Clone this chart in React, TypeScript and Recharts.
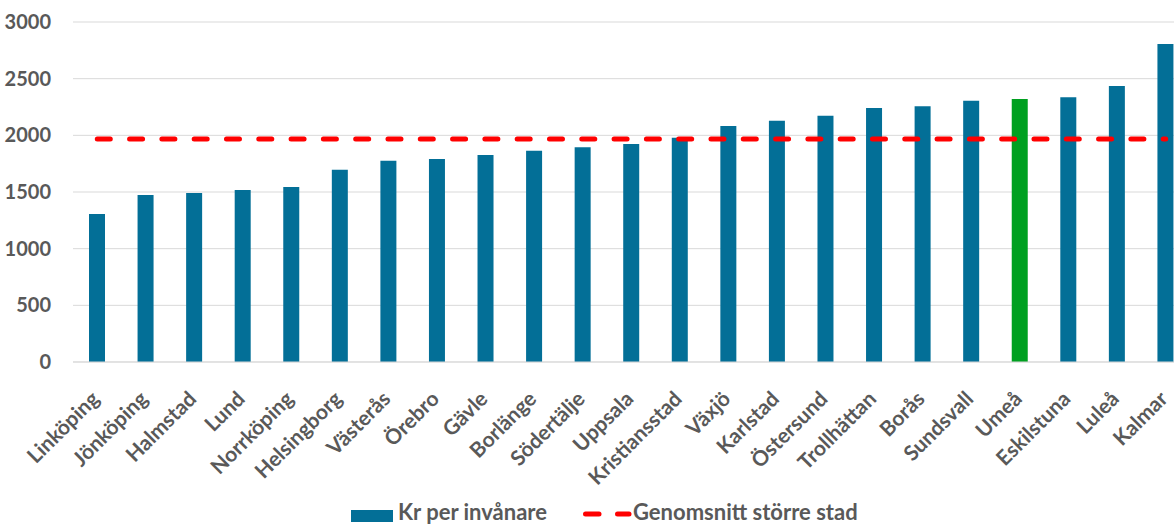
import { ComposedChart, Bar, Line, XAxis, YAxis, CartesianGrid, Cell } from "recharts";

const cities = [
  "Linköping", "Jönköping", "Halmstad", "Lund", "Norrköping", "Helsingborg",
  "Västerås", "Örebro", "Gävle", "Borlänge", "Södertälje", "Uppsala",
  "Kristiansstad", "Växjö", "Karlstad", "Östersund", "Trollhättan", "Borås",
  "Sundsvall", "Umeå", "Eskilstuna", "Luleå", "Kalmar",
];
const krPerInvanare = [
  1306, 1473, 1491, 1518, 1544, 1697, 1776, 1791, 1826, 1864, 1894, 1923,
  1979, 2082, 2129, 2173, 2241, 2256, 2306, 2321, 2335, 2435, 2806,
];
const genomsnitt = 1968;
const highlighted = "Umeå";
const yTicks = [0, 500, 1000, 1500, 2000, 2500, 3000];
const seriesNames = ["Kr per invånare", "Genomsnitt större stad"];

const BLUE = "#036f97";
const GREEN = "#00a020";
const RED = "#ff0000";
const GREY = "#595959";
const FONT = "Lato, 'Open Sans', sans-serif";

const data = cities.map((city, i) => ({ city, value: krPerInvanare[i], avg: genomsnitt }));

function CityTick(props: any) {
  const { x, y, payload } = props;
  return (
    <g transform={`translate(${x - 2},${y + 25})`}>
      <text
        x={0}
        y={0}
        dy="0.35em"
        textAnchor="end"
        transform="rotate(-45)"
        fill={GREY}
        fontFamily={FONT}
        fontWeight={700}
        fontSize={21}
      >
        {payload.value}
      </text>
    </g>
  );
}

const legendText = {
  position: "absolute" as const,
  top: 499,
  lineHeight: "25px",
  fontFamily: FONT,
  fontWeight: 700,
  fontSize: 22,
  color: GREY,
  whiteSpace: "nowrap" as const,
};

// legend drawn as plain html under the chart
function ChartLegend() {
  return (
    <>
      <span style={{ position: "absolute", left: 351, top: 510, width: 42, height: 12, background: BLUE }} />
      <span style={{ ...legendText, left: 398 }}>{seriesNames[0]}</span>
      <svg width={56} height={10} style={{ position: "absolute", left: 580, top: 509 }}>
        <line x1={5.5} y1={5} x2={19} y2={5} stroke={RED} strokeWidth={5} strokeLinecap="round" />
        <line x1={37.5} y1={5} x2={49} y2={5} stroke={RED} strokeWidth={5} strokeLinecap="round" />
      </svg>
      <span style={{ ...legendText, left: 633 }}>{seriesNames[1]}</span>
    </>
  );
}

export default function App() {
  return (
    <div
      style={{
        position: "fixed",
        left: 0,
        top: 0,
        width: 1174,
        height: 526,
        overflow: "hidden",
        background: "#fff",
      }}
    >
      <ComposedChart
        width={1200}
        height={526}
        data={data}
        margin={{ top: 22, right: 10, left: 0, bottom: 0 }}
      >
        <CartesianGrid vertical={false} stroke="#d9d9d9" strokeWidth={1} />
        <XAxis
          dataKey="city"
          interval={0}
          tickLine={false}
          axisLine={{ stroke: "#d9d9d9" }}
          height={164}
          tick={<CityTick />}
        />
        <YAxis
          domain={[0, 3000]}
          ticks={yTicks}
          width={73}
          axisLine={false}
          tickLine={false}
          tickMargin={16}
          tick={{ fill: GREY, fontFamily: FONT, fontWeight: 700, fontSize: 20 }}
        />
        <Bar dataKey="value" name={seriesNames[0]} barSize={16} isAnimationActive={false}>
          {data.map((d) => (
            <Cell key={d.city} fill={d.city === highlighted ? GREEN : BLUE} />
          ))}
        </Bar>
        <Line
          dataKey="avg"
          name={seriesNames[1]}
          type="linear"
          stroke={RED}
          strokeWidth={5}
          strokeDasharray="13 19.3"
          strokeLinecap="round"
          dot={false}
          activeDot={false}
          isAnimationActive={false}
        />
      </ComposedChart>
      <ChartLegend />
    </div>
  );
}
